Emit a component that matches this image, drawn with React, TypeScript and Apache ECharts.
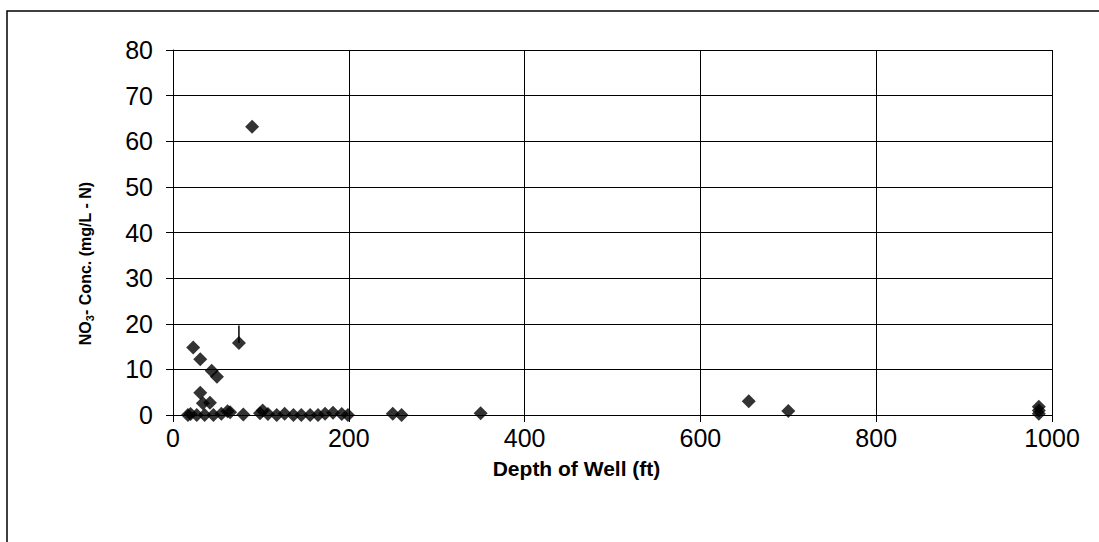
import React, { useEffect, useRef } from "react";
import * as echarts from "echarts";

const depthFt = [23, 31, 75, 44, 50, 31, 34, 42, 90,
  17, 20, 27, 36, 46, 55, 62, 65, 80, 99, 102, 108, 118, 127, 137, 146, 156, 165, 173, 182, 192, 199,
  250, 260, 350, 655, 700, 985, 985, 985];
const nitrateConc = [14.8, 12.2, 15.8, 9.7, 8.4, 4.9, 2.6, 2.7, 63.2,
  0, 0.2, 0, 0, 0, 0.3, 0.8, 0.6, 0.1, 0.4, 1.0, 0.2, 0, 0.3, 0, 0, 0, 0, 0.3, 0.5, 0.2, 0,
  0.3, 0, 0.4, 3.0, 0.9, 1.8, 1.0, 0.3];
const markerLineX = [75, 75];
const markerLineY = [15.8, 19.6];
const xTicks = [0, 200, 400, 600, 800, 1000];
const yTicks = [0, 10, 20, 30, 40, 50, 60, 70, 80];

export default function App() {
  const ref = useRef<HTMLDivElement>(null);
  useEffect(() => {
    if (!ref.current) return;
    const chart = echarts.init(ref.current, null, { renderer: "svg" });
    const font = "'Liberation Sans', Arial, sans-serif";
    chart.setOption({
      animation: false,
      backgroundColor: "#ffffff",
      grid: { left: 173, top: 50, right: 47, bottom: 127, show: false },
      graphic: [
        {
          type: "rect",
          shape: { x: 7, y: 11, width: 1200, height: 700 },
          style: { fill: "none", stroke: "#000", lineWidth: 1.5 },
          silent: true,
        },
      ],
      xAxis: {
        type: "value",
        min: xTicks[0],
        max: xTicks[xTicks.length - 1],
        interval: 200,
        name: "Depth of Well (ft)",
        nameLocation: "middle",
        nameGap: 43,
        nameTextStyle: { fontFamily: font, fontWeight: "bold", fontSize: 21, color: "#000", padding: [0, 72, 0, 0] },
        axisLine: { show: true, onZero: false, lineStyle: { color: "#000", width: 1 } },
        axisTick: { show: true, length: 7, lineStyle: { color: "#000" } },
        axisLabel: { fontFamily: font, fontSize: 25, color: "#000", margin: 10, formatter: (v: number) => String(v) },
        splitLine: { show: true, lineStyle: { color: "#000", width: 1 } },
      },
      yAxis: {
        type: "value",
        min: yTicks[0],
        max: yTicks[yTicks.length - 1],
        interval: 10,
        name: "NO{sub|3}- Conc. (mg/L - N)",
        nameLocation: "middle",
        nameGap: 78,
        nameTextStyle: {
          fontFamily: font,
          fontWeight: "bold",
          fontSize: 16,
          color: "#000",
          padding: [0, 62, 0, 0],
          rich: {
            sub: { fontFamily: font, fontWeight: "bold", fontSize: 11, color: "#000", verticalAlign: "bottom", padding: [8, 0, 0, 0] },
          },
        },
        axisLine: { show: true, lineStyle: { color: "#000", width: 1 } },
        axisTick: { show: true, length: 7, lineStyle: { color: "#000" } },
        axisLabel: { fontFamily: font, fontSize: 25, color: "#000", margin: 20 },
        splitLine: { show: true, lineStyle: { color: "#000", width: 1 } },
      },
      series: [
        {
          type: "scatter",
          symbol: "diamond",
          symbolSize: 14,
          itemStyle: { color: "#000" },
          data: depthFt.map((d, i) => [d, nitrateConc[i]]),
          z: 5,
        },
        {
          type: "line",
          symbol: "none",
          lineStyle: { color: "#000", width: 1.5 },
          data: markerLineX.map((d, i) => [d, markerLineY[i]]),
          z: 4,
        },
      ],
    });
    return () => chart.dispose();
  }, []);
  return <div ref={ref} style={{ position: "fixed", left: 0, top: 0, width: 1099, height: 542 }} />;
}
